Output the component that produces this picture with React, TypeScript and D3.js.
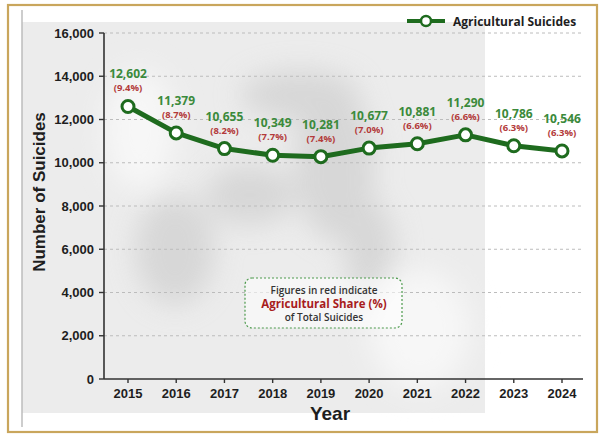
import React from 'react';
import * as d3 from 'd3';

const years = ['2015', '2016', '2017', '2018', '2019', '2020', '2021', '2022', '2023', '2024'];
const suicides = [12602, 11379, 10655, 10349, 10281, 10677, 10881, 11290, 10786, 10546];
const sharePct = [9.4, 8.7, 8.2, 7.7, 7.4, 7.0, 6.6, 6.6, 6.3, 6.3];
const yTicks = [0, 2000, 4000, 6000, 8000, 10000, 12000, 14000, 16000];

const W = 600, H = 438;
const left = 104, right = 583, top = 33, bottom = 379;

const GREEN = '#1e6b1e';
const LABEL_GREEN = '#3b8a3b';
const RED = '#b33a3a';
const AXIS_FONT = '"Liberation Sans", Arial, sans-serif';
const LABEL_FONT = '"Open Sans", "Noto Sans", sans-serif';

export default function App() {
  const x = d3.scalePoint<string>().domain(years).range([128, 562]);
  const y = d3.scaleLinear().domain([0, 16000]).range([bottom, top]);
  const fmt = d3.format(',');

  const line = d3.line<number>()
    .x((_, i) => x(years[i]) as number)
    .y((d) => y(d));

  return (
    <svg width={W} height={H} style={{ position: 'absolute', left: 0, top: 0, background: '#fff' }}>
      <defs>
        <filter id="haze" x="-50%" y="-50%" width="200%" height="200%">
          <feGaussianBlur stdDeviation="14" />
        </filter>
      </defs>

      {/* faded photo backdrop */}
      <rect x={22} y={22} width={463} height={391} fill="#ececec" />
      <g filter="url(#haze)" fill="#d2d2d2" opacity={0.8}>
        <ellipse cx={335} cy={165} rx={40} ry={75} />
        <ellipse cx={250} cy={195} rx={45} ry={30} />
        <ellipse cx={175} cy={250} rx={40} ry={55} />
        <ellipse cx={300} cy={95} rx={60} ry={25} />
        <ellipse cx={370} cy={250} rx={25} ry={50} />
      </g>
      <g filter="url(#haze)" fill="#f7f7f7">
        <ellipse cx={140} cy={130} rx={35} ry={60} />
        <ellipse cx={420} cy={330} rx={50} ry={60} />
      </g>
      <line x1={22} x2={22} y1={10} y2={427} stroke="#bdbdbd" strokeWidth={1.5} />

      {/* gridlines */}
      {yTicks.filter((t) => t > 0).map((t) => (
        <line key={t} x1={left} x2={right} y1={y(t)} y2={y(t)}
          stroke="#bcbcbc" strokeWidth={1} strokeDasharray="3,3" />
      ))}

      {/* axes */}
      <line x1={left} x2={left} y1={top} y2={bottom} stroke="#333" strokeWidth={1.6} />
      <line x1={left} x2={right} y1={bottom} y2={bottom} stroke="#333" strokeWidth={1.6} />
      {yTicks.map((t) => (
        <g key={t}>
          <line x1={left - 5} x2={left} y1={y(t)} y2={y(t)} stroke="#333" strokeWidth={1.4} />
          <text x={left - 10} y={y(t) + 4.5} textAnchor="end" fontFamily={AXIS_FONT}
            fontWeight="bold" fontSize={13} fill="#1e1e1e">{fmt(t)}</text>
        </g>
      ))}
      {years.map((yr) => (
        <g key={yr}>
          <line x1={x(yr)} x2={x(yr)} y1={bottom} y2={bottom + 4} stroke="#333" strokeWidth={1.4} />
          <text x={x(yr)} y={bottom + 19} textAnchor="middle" fontFamily={AXIS_FONT}
            fontWeight="bold" fontSize={13} fill="#1e1e1e">{yr}</text>
        </g>
      ))}

      <text transform={`translate(45,192) rotate(-90)`} textAnchor="middle" fontFamily={AXIS_FONT}
        fontWeight="bold" fontSize={17} fill="#1e1e1e">Number of Suicides</text>
      <text x={330} y={420} textAnchor="middle" fontFamily={AXIS_FONT}
        fontWeight="bold" fontSize={19} fill="#1e1e1e">Year</text>

      {/* series */}
      <path d={line(suicides) || ''} fill="none" stroke={GREEN} strokeWidth={5}
        strokeLinejoin="round" strokeLinecap="round" />
      {suicides.map((v, i) => (
        <circle key={years[i]} cx={x(years[i])} cy={y(v)} r={6} fill="#fff"
          stroke={GREEN} strokeWidth={3} />
      ))}
      {suicides.map((v, i) => (
        <g key={'lbl' + years[i]} fontFamily={LABEL_FONT} textAnchor="middle">
          <text x={x(years[i])} y={y(v) - 28} fontSize={12} fontWeight={700}
            fill={LABEL_GREEN}>{fmt(v)}</text>
          <text x={x(years[i])} y={y(v) - 15} fontSize={9.5} fontWeight={700}
            fill={RED}>({sharePct[i].toFixed(1)}%)</text>
        </g>
      ))}

      {/* note */}
      <rect x={245} y={278} width={157} height={50} rx={7} fill="rgba(255,255,255,0.55)"
        stroke="#4c9a4c" strokeWidth={1.2} strokeDasharray="2,2" />
      <g fontFamily={LABEL_FONT} textAnchor="middle">
        <text x={324} y={293.5} fontSize={10} fill="#333" fontWeight={600}>Figures in red indicate</text>
        <text x={324} y={307.5} fontSize={11.5} fill="#a81c1c" fontWeight={700}>Agricultural Share (%)</text>
        <text x={324} y={321} fontSize={10} fill="#333" fontWeight={600}>of Total Suicides</text>
      </g>

      {/* legend */}
      <line x1={407} x2={445} y1={21} y2={21} stroke={GREEN} strokeWidth={4} />
      <circle cx={426} cy={21} r={5} fill="#fff" stroke={GREEN} strokeWidth={2.5} />
      <text x={453} y={25.5} fontFamily={LABEL_FONT} fontWeight={700} fontSize={12}
        fill="#1e1e1e">Agricultural Suicides</text>

      {/* frame */}
      <rect x={8} y={5} width={589} height={427} fill="none" stroke="#c9a65c" strokeWidth={2.2} />
    </svg>
  );
}
